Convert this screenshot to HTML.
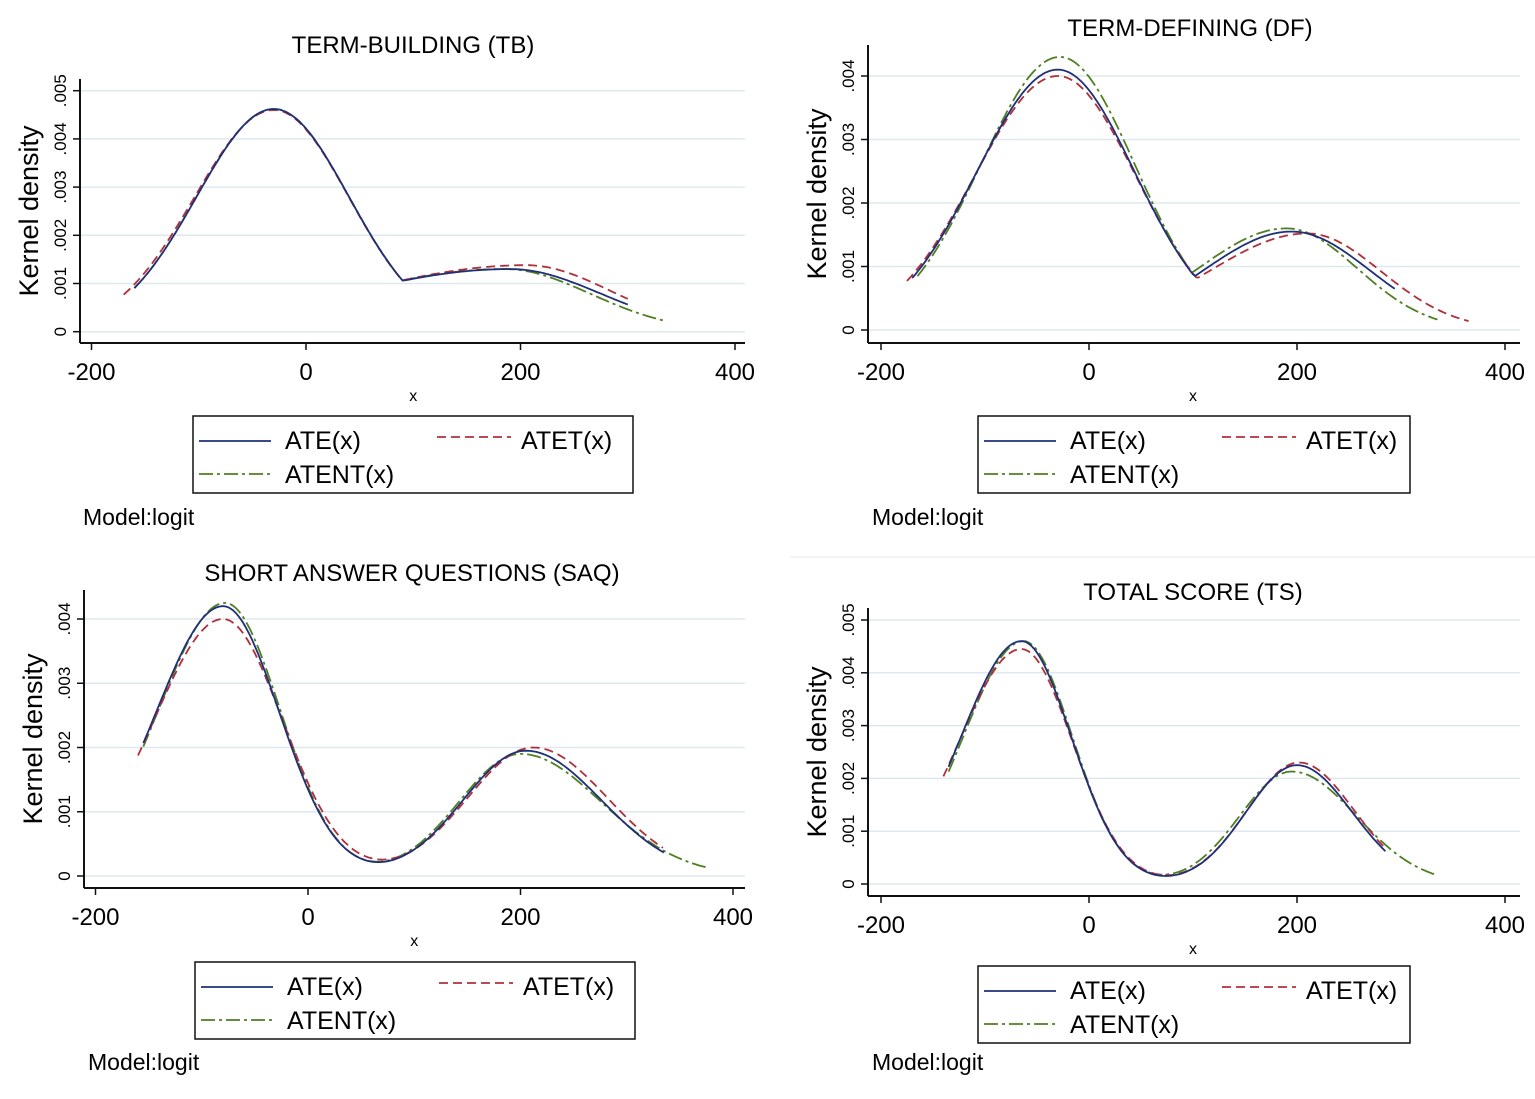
<!DOCTYPE html>
<html><head><meta charset="utf-8">
<style>
html,body{margin:0;padding:0;background:#fff;}
svg{display:block;font-family:"Liberation Sans",Arial,sans-serif;}
</style></head>
<body>
<svg id="s" width="1535" height="1099" viewBox="0 0 1535 1099" xmlns="http://www.w3.org/2000/svg">
<rect width="1535" height="1099" fill="#fff"/>
<line x1="790" y1="557" x2="1535" y2="557" stroke="#e6e6e6" stroke-width="1"/>
<text x="413" y="53" font-size="24" text-anchor="middle">TERM-BUILDING (TB)</text>
<text x="1190" y="36" font-size="24" text-anchor="middle">TERM-DEFINING (DF)</text>
<text x="412" y="581" font-size="24" text-anchor="middle">SHORT ANSWER QUESTIONS (SAQ)</text>
<text x="1193" y="600" font-size="24" text-anchor="middle">TOTAL SCORE (TS)</text>
<g id="g"></g>
</svg>
<script>
var NS="http://www.w3.org/2000/svg",G=document.getElementById("g");
function el(t,a,txt){var e=document.createElementNS(NS,t);for(var k in a)e.setAttribute(k,a[k]);if(txt!=null)e.textContent=txt;G.appendChild(e);return e;}
var C={ate:"#1f2f78",atet:"#b0303a",atent:"#4f7f20"};
var DASH={ate:"",atet:"9,5",atent:"14,4,3,4"};
function f(comps,x,mx){var s=0;comps.forEach(function(c){var d=x-c[0],sg=d<0?c[2]:c[3];var v=c[1]*Math.exp(-d*d/(2*sg*sg));if(mx)s=Math.max(s,v);else s+=v;});return s;}
function panel(P){
 var L=P.left,B=P.bottom,T=P.top,R=P.right;
 function px(x){return P.x0+x*P.kx;} function py(v){return P.y0-v*P.ky;}
 for(var i=0;i<=P.ny;i++){var y=py(i*0.001);el("line",{x1:L,y1:y,x2:R,y2:y,stroke:"#dde9ee","stroke-width":1.5});}
 el("line",{x1:L,y1:T,x2:L,y2:B,stroke:"#111","stroke-width":2});
 el("line",{x1:L,y1:B,x2:R,y2:B,stroke:"#111","stroke-width":2});
 for(var i=0;i<=P.ny;i++){var y=py(i*0.001);el("line",{x1:L-7,y1:y,x2:L,y2:y,stroke:"#111","stroke-width":1.5});
  var lab=i==0?"0":".00"+i;el("text",{x:0,y:0,"font-size":17,"text-anchor":"middle",transform:"translate("+(L-14)+","+y+") rotate(-90)"},lab);}
 [-200,0,200,400].forEach(function(v){var x=px(v);el("line",{x1:x,y1:B,x2:x,y2:B+7,stroke:"#111","stroke-width":1.5});
  el("text",{x:x,y:B+37,"font-size":24,"text-anchor":"middle"},String(v));});
 el("text",{x:px(100),y:B+58,"font-size":16,"text-anchor":"middle"},"x");
 el("text",{x:0,y:0,"font-size":27,"text-anchor":"middle",transform:"translate("+(L-42)+","+((T+B)/2)+") rotate(-90)"},"Kernel density");
 ["atent","atet","ate"].forEach(function(k){var s=P.s[k],d="";
  for(var x=s.r[0];x<=s.r[1]+0.01;x+=2){d+=(d?"L":"M")+px(x).toFixed(1)+","+py(f(s.c,x,P.max)).toFixed(1);}
  var a={d:d,fill:"none",stroke:C[k],"stroke-width":1.8};if(DASH[k])a["stroke-dasharray"]=DASH[k];el("path",a);});
 var lx=P.lg[0],ly=P.lg[1];
 el("rect",{x:lx,y:ly,width:P.lg[2],height:77,fill:"#fff",stroke:"#111","stroke-width":1.5});
 el("line",{x1:lx+6,y1:ly+25,x2:lx+78,y2:ly+25,stroke:C.ate,"stroke-width":1.8});
 el("text",{x:lx+92,y:ly+33,"font-size":25},"ATE(x)");
 el("line",{x1:lx+244,y1:ly+21,x2:lx+318,y2:ly+21,stroke:C.atet,"stroke-width":1.8,"stroke-dasharray":"9,5"});
 el("text",{x:lx+328,y:ly+33,"font-size":25},"ATET(x)");
 el("line",{x1:lx+6,y1:ly+58,x2:lx+78,y2:ly+58,stroke:C.atent,"stroke-width":1.8,"stroke-dasharray":"14,4,3,4"});
 el("text",{x:lx+92,y:ly+67,"font-size":25},"ATENT(x)");
 el("text",{x:P.m[0],y:P.m[1],"font-size":23},"Model:logit");
}
panel({left:80,top:79,bottom:343,right:745,x0:306,kx:1.0725,y0:331.7,ky:48200,ny:5,lg:[193,416,440],m:[83,525],max:true,
 s:{ate:{r:[-160,300],c:[[-30,0.00462,72,70],[190,0.0013,155,85]]},
    atet:{r:[-170,300],c:[[-30,0.00460,74,70],[205,0.00138,160,80]]},
    atent:{r:[-160,335],c:[[-30,0.00462,72,70],[185,0.0013,150,80]]}}});
panel({left:868,top:45,bottom:343,right:1520,x0:1089,kx:1.04,y0:330,ky:63500,ny:4,lg:[978,416,432],m:[872,525],max:true,
 s:{ate:{r:[-170,295],c:[[-30,0.0041,78,74],[195,0.00155,85,75]]},
    atet:{r:[-175,365],c:[[-30,0.0040,80,75],[210,0.00152,95,71]]},
    atent:{r:[-165,335],c:[[-28,0.0043,76,72],[190,0.0016,85,68]]}}});
panel({left:84,top:590,bottom:888,right:745,x0:308,kx:1.0625,y0:876,ky:64250,ny:4,lg:[195,962,440],m:[88,1070],
 s:{ate:{r:[-155,335],c:[[-80,0.0042,63,53],[205,0.00195,59,71]]},
    atet:{r:[-160,335],c:[[-80,0.0040,65,56],[212,0.0020,62,70]]},
    atent:{r:[-155,375],c:[[-78,0.00425,63,52],[200,0.0019,58,76]]}}});
panel({left:868,top:608,bottom:896,right:1520,x0:1089,kx:1.04,y0:884,ky:52800,ny:5,lg:[978,966,432],m:[872,1070],
 s:{ate:{r:[-135,285],c:[[-65,0.0046,58,48],[200,0.00225,49,53]]},
    atet:{r:[-140,285],c:[[-65,0.00445,60,49],[202,0.0023,50,53]]},
    atent:{r:[-135,335],c:[[-63,0.0046,58,47],[195,0.00213,50,62]]}}});
</script>
</body></html>
